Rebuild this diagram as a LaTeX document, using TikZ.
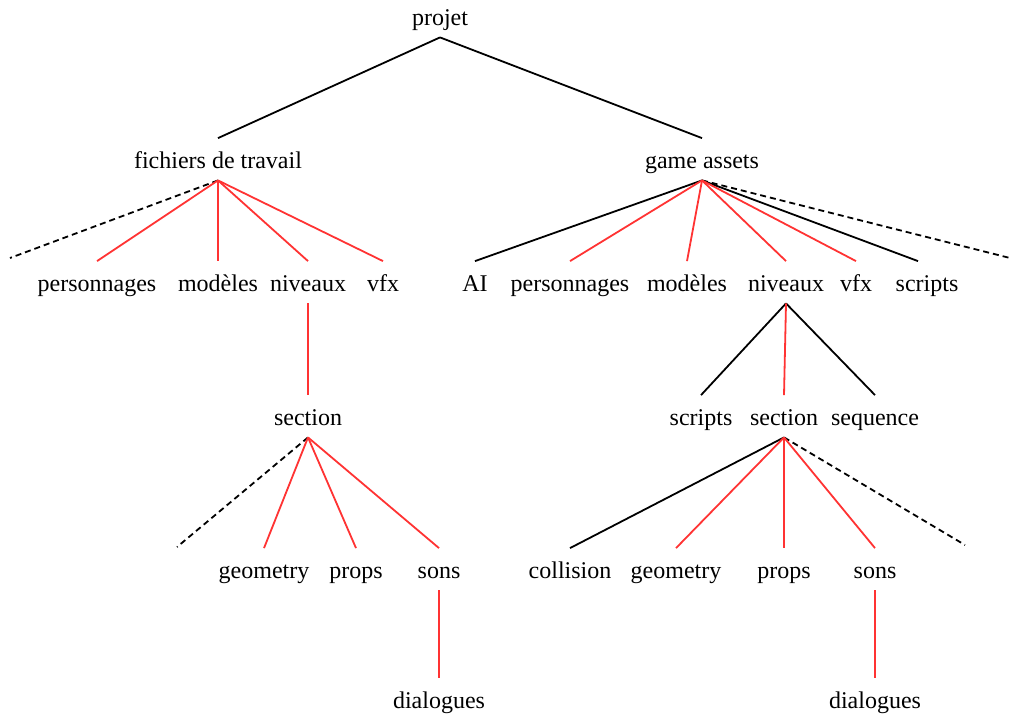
\documentclass[tikz,border=0pt]{standalone}
\usepackage{fontspec}
\setmainfont{Liberation Serif}
\usepackage{tikz}
\usetikzlibrary{positioning, calc}

\definecolor{linkred}{HTML}{FF3333}

\begin{document}
\begin{tikzpicture}[
    x=0.5pt, y=-0.5pt,
    folder/.style={font=\fontsize{12pt}{14pt}\selectfont, inner xsep=2pt, inner ysep=0pt,
                   text height=14.75pt, text depth=6pt, anchor=base},
    link/.style={draw=black, line width=0.9pt},
    redlink/.style={draw=linkred, line width=0.9pt},
    more/.style={draw=black, line width=0.9pt, dash pattern=on 3pt off 2pt}
]
\useasboundingbox (0,0) rectangle (1015,713);

% root
\node[folder] (projet) at (440,25) {projet};
\node[folder] (travail) at (218,168) {fichiers de travail};
\node[folder] (assets) at (702,168) {game assets};

% fichiers de travail
\node[folder] (tperso) at (97,291) {personnages};
\node[folder] (tmodel) at (218,291) {modèles};
\node[folder] (tniv) at (308,291) {niveaux};
\node[folder] (tvfx) at (383,291) {vfx};
\node[folder] (tsection) at (308,425) {section};
\node[folder] (tgeom) at (264,578) {geometry};
\node[folder] (tprops) at (356,578) {props};
\node[folder] (tsons) at (439,578) {sons};
\node[folder] (tdial) at (439,708) {dialogues};
\coordinate (tmore) at (10,258);
\coordinate (tsecmore) at (177,547);

% game assets
\node[folder] (aai) at (475,291) {AI};
\node[folder] (aperso) at (570,291) {personnages};
\node[folder] (amodel) at (687,291) {modèles};
\node[folder] (aniv) at (786,291) {niveaux};
\node[folder] (avfx) at (856,291) {vfx};
\node[folder] (ascripts) at (927,291) {scripts};
\node[folder] (anscripts) at (701,425) {scripts};
\node[folder] (asection) at (784,425) {section};
\node[folder] (aseq) at (875,425) {sequence};
\node[folder] (acoll) at (570,578) {collision};
\node[folder] (ageom) at (676,578) {geometry};
\node[folder] (aprops) at (784,578) {props};
\node[folder] (asons) at (875,578) {sons};
\node[folder] (adial) at (875,708) {dialogues};
\coordinate (amore) at (1010,258);
\coordinate (asecmore) at (965,545);

% links
\draw[link] (projet.south) -- (travail.north);
\draw[link] (projet.south) -- (assets.north);

\draw[more] (travail.south) -- (tmore);
\foreach \c in {tperso,tmodel,tniv,tvfx}
  \draw[redlink] (travail.south) -- (\c.north);
\draw[redlink] (tniv.south) -- (tsection.north);
\draw[more] (tsection.south) -- (tsecmore);
\foreach \c in {tgeom,tprops,tsons}
  \draw[redlink] (tsection.south) -- (\c.north);
\draw[redlink] (tsons.south) -- (tdial.north);

\draw[link] (assets.south) -- (aai.north);
\draw[link] (assets.south) -- ([xshift=-4.5pt]ascripts.north);
\draw[more] (assets.south) -- (amore);
\foreach \c in {aperso,amodel,aniv,avfx}
  \draw[redlink] (assets.south) -- (\c.north);
\draw[link] (aniv.south) -- (anscripts.north);
\draw[link] (aniv.south) -- (aseq.north);
\draw[redlink] (aniv.south) -- (asection.north);
\draw[link] (asection.south) -- (acoll.north);
\draw[more] (asection.south) -- (asecmore);
\foreach \c in {ageom,aprops,asons}
  \draw[redlink] (asection.south) -- (\c.north);
\draw[redlink] (asons.south) -- (adial.north);

\end{tikzpicture}
\end{document}
